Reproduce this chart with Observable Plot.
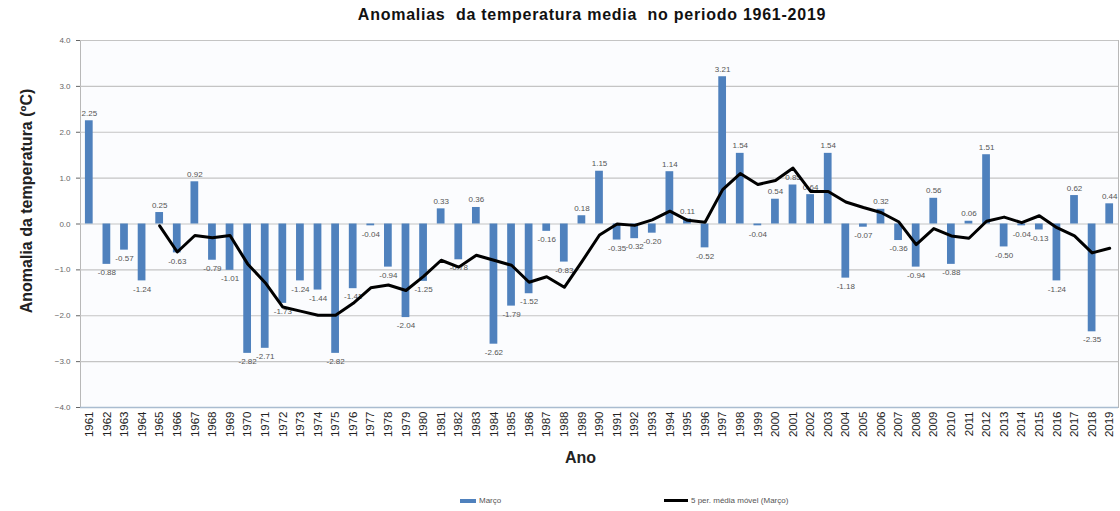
<!DOCTYPE html>
<html>
<head>
<meta charset="utf-8">
<script src="https://cdn.jsdelivr.net/npm/d3@7"></script>
<script src="https://cdn.jsdelivr.net/npm/@observablehq/plot@0.6"></script>
<style>
  body { margin: 0; background: #fff; font-family: "Liberation Sans", Arial, sans-serif; }
  #wrap { position: relative; width: 1120px; height: 511px; overflow: hidden; }
  #title { position: absolute; left: 592px; top: 6px; transform: translateX(-50%); white-space: pre;
           font-weight: bold; font-size: 16px; letter-spacing: 0.75px; color: #111; }
  #chart { position: absolute; left: 0; top: 30px; }
  .leg { position: absolute; top: 496px; font-size: 8px; color: #555; display: flex; align-items: center; white-space: nowrap; }
  .sw { display: inline-block; margin-right: 3px; }
</style>
</head>
<body>
<div id="wrap">
  <div id="title">Anomalias  da temperatura media  no periodo 1961-2019</div>
  <div id="chart"></div>
  <div class="leg" style="left:460px"><span class="sw" style="width:16px;height:4px;background:#4f81bd"></span>Março</div>
  <div class="leg" style="left:664px"><span class="sw" style="width:24px;height:3px;background:#000"></span>5 per. média móvel (Março)</div>
</div>
<script>
const years = d3.range(1961, 2020);
const anomalies = [
  2.25, -0.88, -0.57, -1.24, 0.25, -0.63, 0.92, -0.79, -1.01, -2.82,
  -2.71, -1.73, -1.24, -1.44, -2.82, -1.41, -0.04, -0.94, -2.04, -1.25,
  0.33, -0.78, 0.36, -2.62, -1.79, -1.52, -0.16, -0.83, 0.18, 1.15,
  -0.35, -0.32, -0.20, 1.14, 0.11, -0.52, 3.21, 1.54, -0.04, 0.54,
  0.85, 0.64, 1.54, -1.18, -0.07, 0.32, -0.36, -0.94, 0.56, -0.88,
  0.06, 1.51, -0.50, -0.04, -0.13, -1.24, 0.62, -2.35, 0.44
];
// 5-period moving average line (starts in 1965)
const maYears = d3.range(1965, 2020);
const movingAvg = [
  -0.04, -0.61, -0.25, -0.30, -0.25, -0.87, -1.28, -1.81, -1.90, -1.99,
  -1.99, -1.73, -1.39, -1.33, -1.45, -1.14, -0.79, -0.94, -0.68, -0.79,
  -0.90, -1.27, -1.15, -1.38, -0.82, -0.24, 0.00, -0.03, 0.09, 0.28,
  0.08, 0.04, 0.75, 1.10, 0.86, 0.95, 1.22, 0.71, 0.71, 0.48,
  0.36, 0.25, 0.05, -0.45, -0.10, -0.26, -0.31, 0.06, 0.15, 0.03,
  0.18, -0.08, -0.26, -0.63, -0.53
];
const yTicks = [-4, -3, -2, -1, 0, 1, 2, 3, 4];

const bars = years.map((y, i) => ({year: y, value: anomalies[i]}));
const ma = maYears.map((y, i) => ({year: y, value: movingAvg[i]}));

const chart = Plot.plot({
  width: 1120,
  height: 451,
  marginTop: 10,
  marginBottom: 74,
  marginLeft: 80,
  marginRight: 2,
  style: {fontFamily: "'Liberation Sans', Arial, sans-serif", background: "transparent"},
  x: {type: "band", domain: years, paddingInner: 0.56, paddingOuter: 0.28, align: 0.5},
  y: {domain: [-4, 4]},
  marks: [
    Plot.frame({fill: "#fbfcfe", stroke: "#b8b8b8"}),
    Plot.ruleY(yTicks, {stroke: "#c4c4c4", strokeWidth: 1.2}),
    Plot.ruleY([-4], {stroke: "#a9bcd0", strokeWidth: 1.5}),
    Plot.axisY({ticks: yTicks, tickFormat: d3.format(".1f"), tickSize: 4, tickPadding: 6, fontSize: 8, color: "#666", label: null}),
    Plot.axisX({tickRotate: -90, tickFormat: d => String(d), tickSize: 0, tickPadding: 4, fontSize: 11.5, color: "#222", label: null}),
    Plot.barY(bars, {x: "year", y: "value", fill: "#4f81bd"}),
    Plot.text(bars.filter(d => d.value >= 0), {x: "year", y: "value", text: d => d.value.toFixed(2), lineAnchor: "bottom", dy: -5, fontSize: 8, fill: "#555"}),
    Plot.text(bars.filter(d => d.value < 0), {x: "year", y: "value", text: d => d.value.toFixed(2), lineAnchor: "top", dy: 5, fontSize: 8, fill: "#555"}),
    Plot.line(ma, {x: "year", y: "value", stroke: "#000", strokeWidth: 3}),
    Plot.text(["Anomalia da temperatura (ºC)"], {frameAnchor: "left", textAnchor: "middle", rotate: -90, dx: -54, dy: -23, fontSize: 16, fontWeight: "bold", fill: "#222"}),
    Plot.text(["Ano"], {frameAnchor: "bottom", dx: -19, dy: 55, fontSize: 16, fontWeight: "bold", fill: "#222"})
  ]
});
document.getElementById("chart").appendChild(chart);
</script>
</body>
</html>
